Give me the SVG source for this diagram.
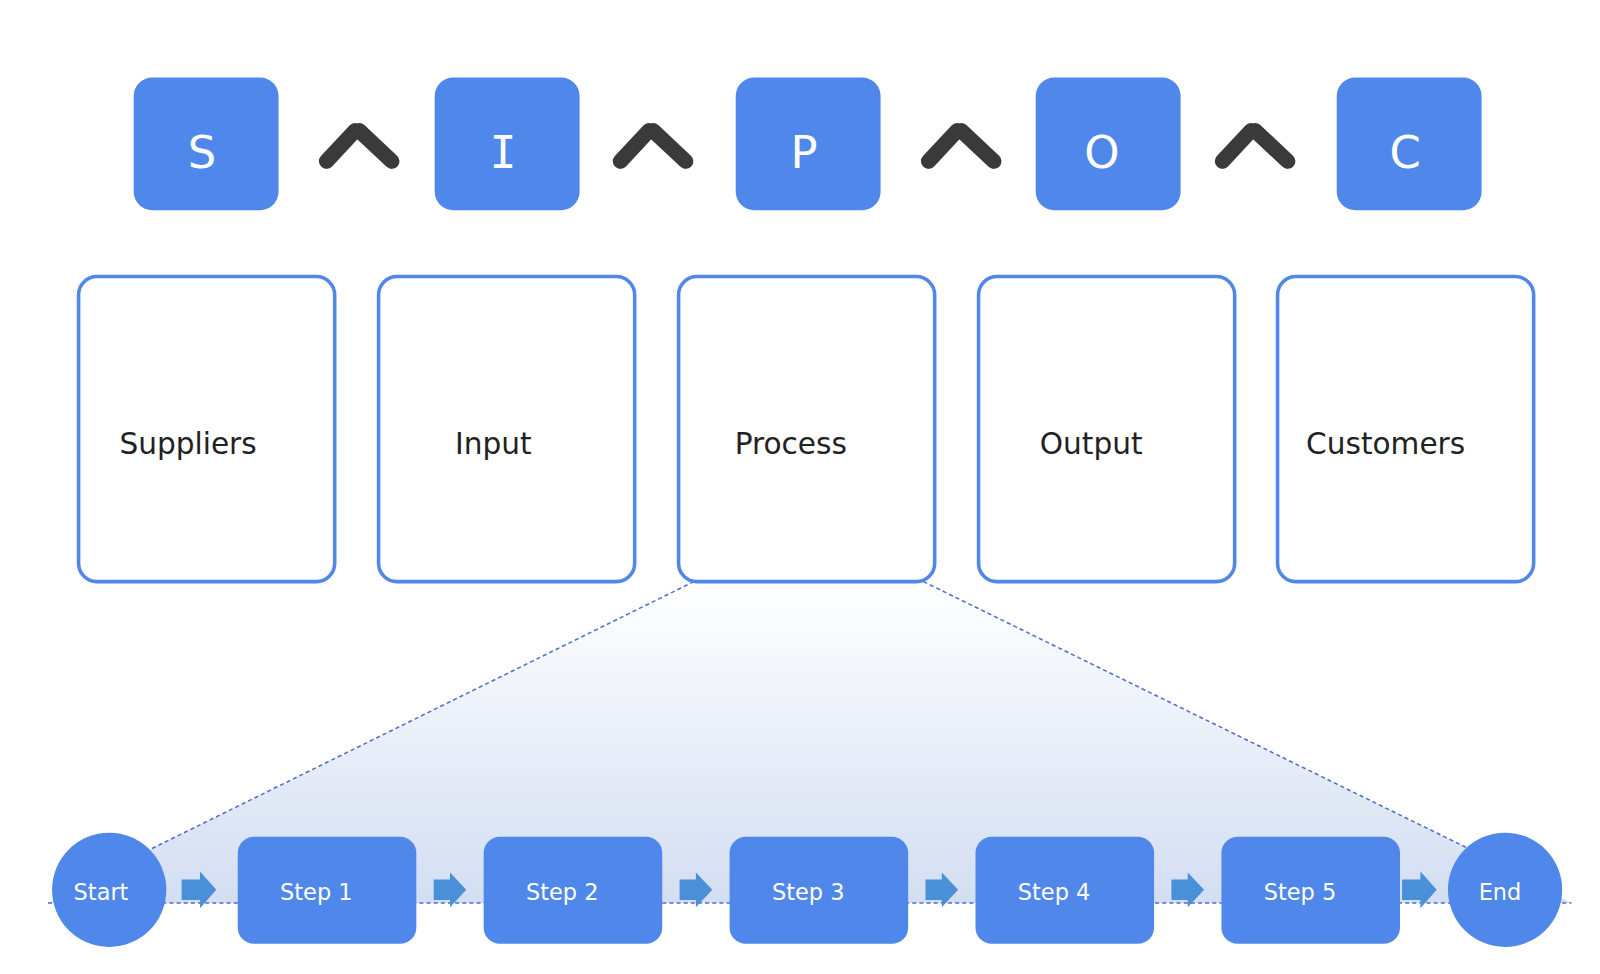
<svg xmlns="http://www.w3.org/2000/svg" width="1600" height="974" viewBox="0 0 1600 974">
<defs>
<linearGradient id="g" x1="0" y1="0" x2="0" y2="1"><stop offset="0" stop-color="#ffffff"/><stop offset="1" stop-color="#d3def2"/></linearGradient>
<style>
.sq{fill:#5087eb}
.lt{font-family:"DejaVu Sans",sans-serif;font-size:44px;fill:#fff;text-anchor:middle}
.bx{fill:#fff;stroke:#5087eb;stroke-width:3.5}
.bt{font-family:"DejaVu Sans",sans-serif;font-size:29px;fill:#222}
.st{fill:#5087eb}
.stt{font-family:"DejaVu Sans",sans-serif;font-size:22px;fill:#fff;text-anchor:middle}
.ch{fill:none;stroke:#3a3a3a;stroke-width:15;stroke-linecap:round}
.ar{fill:#4a90d9}
.dash{fill:none;stroke:#4a6fd0;stroke-width:1.5;stroke-dasharray:4 3}
</style>
</defs>
<rect width="1600" height="974" fill="#fff"/>
<g transform="scale(1.0204)">
<g id="connectors">
<polygon points="680,570 905,570 1440,832 1540,885 47,885 148,832" fill="url(#g)"/>
<path class="dash" d="M680,570 L148,832 M905,570 L1440,832 M47,885 H1540"/>
<path class="ch" d="M320,158 L348,128 M352,128 L384,158"/>
<path class="ch" d="M608,158 L636,128 M640,128 L672,158"/>
<path class="ch" d="M910,158 L938,128 M942,128 L974,158"/>
<path class="ch" d="M1198,158 L1226,128 M1230,128 L1262,158"/>
<g class="ar">
<path d="M178,862 H196 V854 L212,872 L196,890 V882 H178Z"/>
<path d="M425,862 H441 V855 L457,872 L441,889 V882 H425Z"/>
<path d="M666,862 H682 V855 L698,872 L682,889 V882 H666Z"/>
<path d="M907,862 H923 V855 L939,872 L923,889 V882 H907Z"/>
<path d="M1148,862 H1164 V855 L1180,872 L1164,889 V882 H1148Z"/>
<path d="M1374,862 H1392 V854 L1408,872 L1392,890 V882 H1374Z"/>
</g>
</g>
<g id="S"><rect class="sq" x="131" y="76" width="142" height="130" rx="18"/><text class="lt" x="198" y="165">S</text></g>
<g id="I"><rect class="sq" x="426" y="76" width="142" height="130" rx="18"/><text class="lt" x="493" y="165" style="font-family:'DejaVu Sans Mono',monospace">I</text></g>
<g id="P"><rect class="sq" x="721" y="76" width="142" height="130" rx="18"/><text class="lt" x="788" y="165">P</text></g>
<g id="O"><rect class="sq" x="1015" y="76" width="142" height="130" rx="18"/><text class="lt" x="1080" y="165">O</text></g>
<g id="C"><rect class="sq" x="1310" y="76" width="142" height="130" rx="18"/><text class="lt" x="1377" y="165">C</text></g>
<g id="suppliers"><rect class="bx" x="77" y="271" width="251" height="299" rx="18"/><text class="bt" x="117" y="445">Suppliers</text></g>
<g id="input"><rect class="bx" x="371" y="271" width="251" height="299" rx="18"/><text class="bt" x="446" y="445">Input</text></g>
<g id="process"><rect class="bx" x="665" y="271" width="251" height="299" rx="18"/><text class="bt" x="720" y="445">Process</text></g>
<g id="output"><rect class="bx" x="959" y="271" width="251" height="299" rx="18"/><text class="bt" x="1019" y="445">Output</text></g>
<g id="customers"><rect class="bx" x="1252" y="271" width="251" height="299" rx="18"/><text class="bt" x="1280" y="445">Customers</text></g>
<g id="start"><circle class="st" cx="107" cy="872" r="56"/><text class="stt" x="99" y="882">Start</text></g>
<g id="step1"><rect class="st" x="233" y="820" width="175" height="105" rx="16"/><text class="stt" x="310" y="882">Step 1</text></g>
<g id="step2"><rect class="st" x="474" y="820" width="175" height="105" rx="16"/><text class="stt" x="551" y="882">Step 2</text></g>
<g id="step3"><rect class="st" x="715" y="820" width="175" height="105" rx="16"/><text class="stt" x="792" y="882">Step 3</text></g>
<g id="step4"><rect class="st" x="956" y="820" width="175" height="105" rx="16"/><text class="stt" x="1033" y="882">Step 4</text></g>
<g id="step5"><rect class="st" x="1197" y="820" width="175" height="105" rx="16"/><text class="stt" x="1274" y="882">Step 5</text></g>
<g id="end"><circle class="st" cx="1475" cy="872" r="56"/><text class="stt" x="1470" y="882">End</text></g>
</g>
</svg>
